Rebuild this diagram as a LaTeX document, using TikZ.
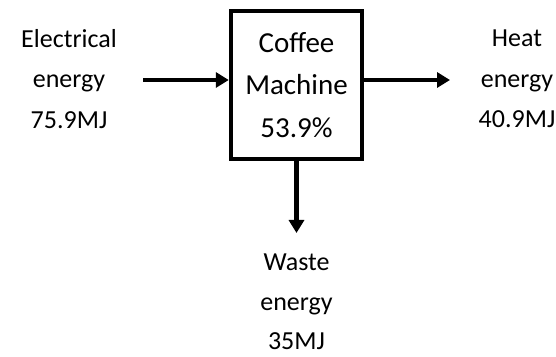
\documentclass[tikz,border=0pt]{standalone}
\usepackage{fontspec}
\setmainfont{Carlito}
\usetikzlibrary{arrows.meta}
\tikzset{>={Triangle[length=13pt,width=15pt]}}
\tikzset{
	label text/.style={align=center, inner sep=0pt, font=\fontsize{26}{40.5}\selectfont},
	flow/.style={->, line width=4.5pt}
}

\begin{document}
\begin{tikzpicture}[x=1pt, y=1pt]
		\useasboundingbox (0,0) rectangle (556,356);
		
		% Machine
		\node[draw, line width=4.5pt, minimum width=131pt, minimum height=148pt, align=center, font=\fontsize{29}{42.5}\selectfont] (machine) at (296.5,271) {Coffee\\Machine\\53.9\%};
		
		% Energies
		\node[label text] (electrical) at (69,277) {Electrical\\energy\\75.9MJ};
		\node[label text] (heat) at (517,277) {Heat\\energy\\40.9MJ};
		\node[label text, font=\fontsize{26}{39.5}\selectfont] (waste) at (296.5,54) {Waste\\energy\\35MJ};
		
		% Arrow ends
		\coordinate (in) at (143,276);
		\coordinate (out) at (450,276);
		\coordinate (down) at (296.5,123);
		
		% Arrows
		\draw[flow] (in) -- (in -| machine.west);
		\draw[flow] (machine.east |- out) -- (out);
		\draw[flow] (machine.south) -- (down);
	\end{tikzpicture}
\end{document}
